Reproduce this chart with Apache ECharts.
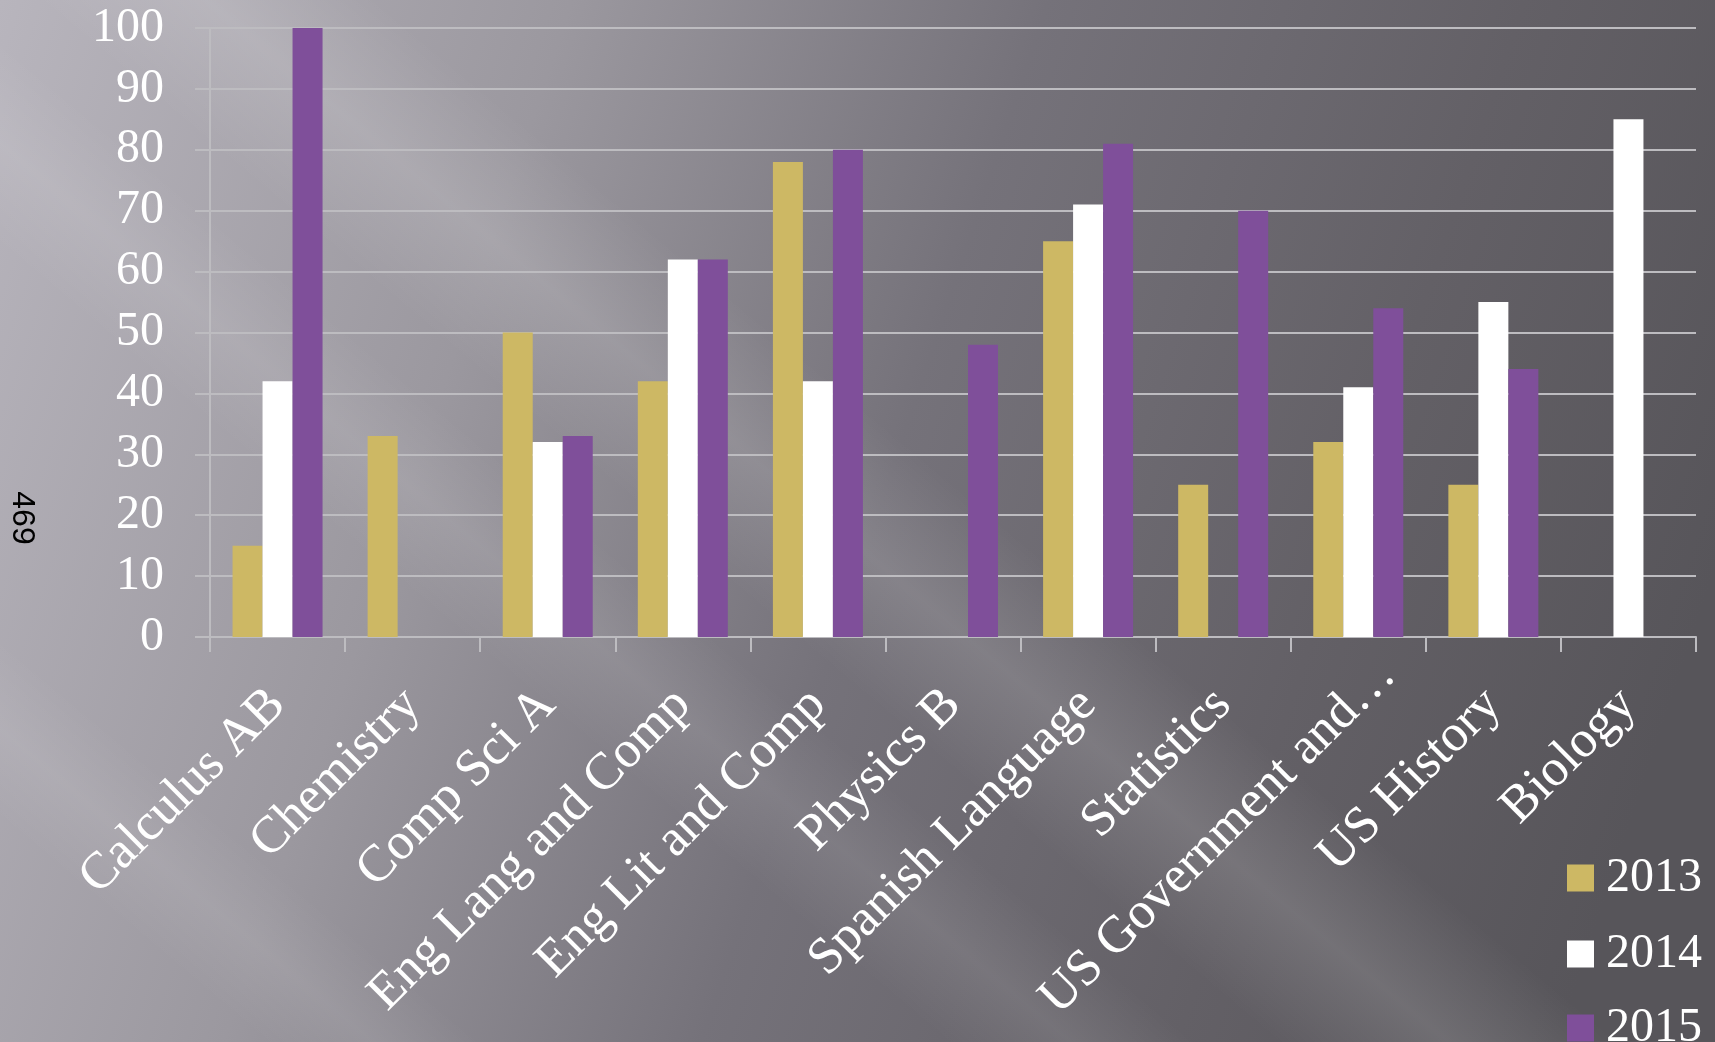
<!DOCTYPE html>
<html>
<head>
<meta charset="utf-8">
<script src="https://cdn.jsdelivr.net/npm/echarts@6/dist/echarts.min.js"></script>
<style>
html,body{margin:0;padding:0;background:#7d7a81;}
#main{width:1715px;height:1042px;}
</style>
</head>
<body>
<div id="main"></div>
<script>
const categories = ['Calculus AB','Chemistry','Comp Sci A','Eng Lang and Comp','Eng Lit and Comp','Physics B','Spanish Language','Statistics','US Government and…','US History','Biology'];
const seriesNames = ['2013','2014','2015'];
const values2013 = [15, 33, 50, 42, 78, null, 65, 25, 32, 25, null];
const values2014 = [42, null, 32, 62, 42, null, 71, null, 41, 55, 85];
const values2015 = [100, null, 33, 62, 80, 48, 81, 70, 54, 44, null];
const yMin = 0, yMax = 100, yStep = 10;
const sideNote = '469';

const colors = ['#CDB864', '#FFFFFF', '#7F4F9A'];
const serif = '"Liberation Serif", "Times New Roman", serif';
const gridColor = '#bdbcc0';

function band(cx, cy, w, h, deg, alpha) {
  return {
    type: 'rect', x: cx, y: cy, rotation: deg * Math.PI / 180, silent: true, z: -10,
    shape: { x: -w / 2, y: -h / 2, width: w, height: h },
    style: {
      fill: new echarts.graphic.LinearGradient(0, 0, 1, 0, [
        { offset: 0, color: 'rgba(255,255,255,0)' },
        { offset: 0.5, color: 'rgba(255,255,255,' + alpha + ')' },
        { offset: 1, color: 'rgba(255,255,255,0)' }
      ])
    }
  };
}

// the truncated label sits a little further along its baseline in the original
const categoryItems = categories.map(c => c.endsWith('…')
  ? { value: c, textStyle: { padding: [0, -42, 0, 0] } }
  : c);

const legendCenters = [872, 948, 1022];
const legends = seriesNames.map((name, i) => ({
  data: [name],
  orient: 'vertical',
  left: 1567, top: legendCenters[i] - 18,
  padding: 0,
  itemWidth: 27, itemHeight: 27,
  icon: 'rect',
  textStyle: { color: '#ffffff', fontSize: 48, fontFamily: serif, lineHeight: 36, padding: [0, 0, 0, 7] }
}));

const chart = echarts.init(document.getElementById('main'), null, { renderer: 'canvas' });
chart.setOption({
  animation: false,
  backgroundColor: new echarts.graphic.LinearGradient(0, 0, 1, 0.55, [
    { offset: 0, color: '#b8b5bd' },
    { offset: 0.3, color: '#9b989f' },
    { offset: 0.55, color: '#75727a' },
    { offset: 0.8, color: '#636066' },
    { offset: 1, color: '#57555a' }
  ]),
  graphic: [
    band(600, 330, 220, 3200, 50, 0.13),
    band(330, 420, 160, 3200, 50, 0.09),
    band(180, 880, 140, 3200, 50, 0.08),
    {
      type: 'text', x: 22, y: 518, rotation: -Math.PI / 2, z: 5,
      style: {
        text: sideNote, fill: '#000000', fontSize: 32,
        fontFamily: '"Liberation Sans", Arial, sans-serif',
        align: 'center', verticalAlign: 'middle'
      }
    }
  ],
  grid: { left: 210, right: 19, top: 28, bottom: 405, containLabel: false, outerBoundsMode: 'none' },
  legend: legends,
  xAxis: {
    type: 'category',
    data: categoryItems,
    boundaryGap: true,
    axisLine: { show: true, lineStyle: { color: gridColor, width: 2 } },
    axisTick: { show: true, length: 15, alignWithLabel: false, lineStyle: { color: gridColor, width: 2 } },
    axisLabel: {
      interval: 0, rotate: 45, color: '#ffffff', fontSize: 52, fontFamily: serif,
      margin: 60
    },
    splitLine: { show: false }
  },
  yAxis: {
    type: 'value', min: yMin, max: yMax, interval: yStep,
    axisLine: { show: true, lineStyle: { color: gridColor, width: 2 } },
    axisTick: { show: true, length: 15, lineStyle: { color: gridColor, width: 2 } },
    axisLabel: { color: '#ffffff', fontSize: 48, fontFamily: serif, margin: 46 },
    splitLine: { show: true, lineStyle: { color: gridColor, width: 2 } }
  },
  series: [
    { name: seriesNames[0], type: 'bar', data: values2013, barWidth: 30, barGap: '0%', itemStyle: { color: colors[0] } },
    { name: seriesNames[1], type: 'bar', data: values2014, barWidth: 30, barGap: '0%', itemStyle: { color: colors[1] } },
    { name: seriesNames[2], type: 'bar', data: values2015, barWidth: 30, barGap: '0%', itemStyle: { color: colors[2] } }
  ]
});
</script>
</body>
</html>
